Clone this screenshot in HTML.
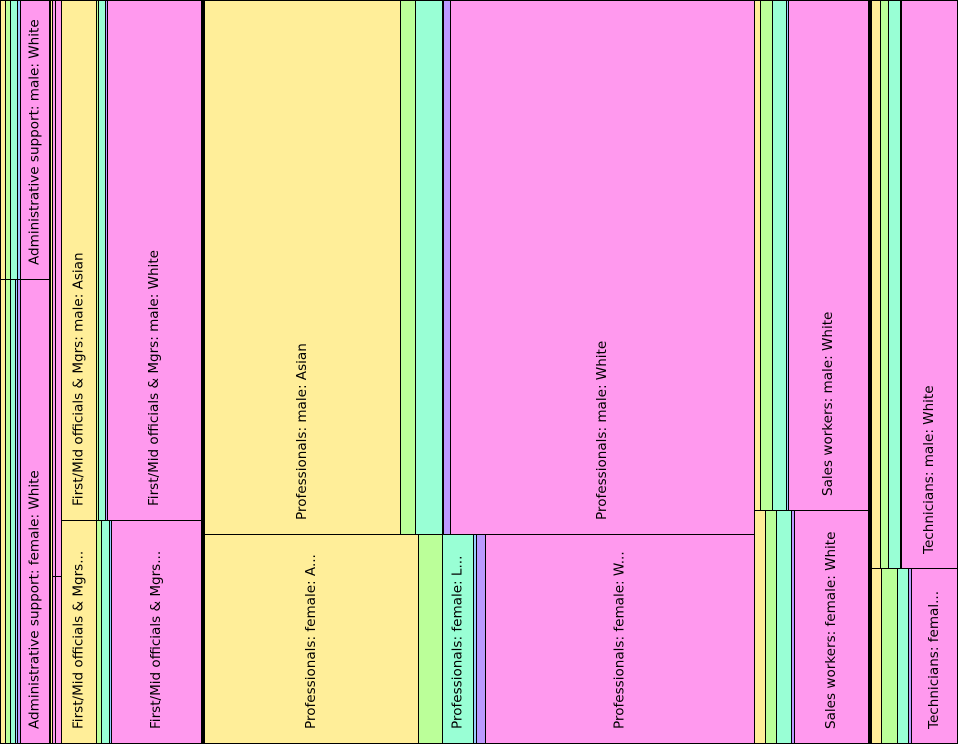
<!DOCTYPE html>
<html>
<head>
<meta charset="utf-8">
<style>
  html,body{margin:0;padding:0;background:#fff;}
  svg{display:block;}
  text{font-family:"DejaVu Sans","Liberation Sans",sans-serif;font-size:13.55px;fill:#000;}
</style>
</head>
<body>
<svg width="958" height="744" viewBox="0 0 958 744" xmlns="http://www.w3.org/2000/svg" shape-rendering="crispEdges">
<g stroke="#000" stroke-width="1">
<!-- Administrative support male -->
<rect x="0.5" y="0.5" width="5" height="279" fill="#FFEE99"/>
<rect x="5.5" y="0.5" width="5" height="279" fill="#BBFF99"/>
<rect x="10.5" y="0.5" width="7" height="279" fill="#99FFD5"/>
<rect x="17.5" y="0.5" width="3" height="279" fill="#99CCFF"/>
<rect x="20.5" y="0.5" width="29" height="279" fill="#FF99EE"/>
<!-- Administrative support female -->
<rect x="0.5" y="279.5" width="5" height="464" fill="#FFEE99"/>
<rect x="5.5" y="279.5" width="5" height="464" fill="#BBFF99"/>
<rect x="10.5" y="279.5" width="5" height="464" fill="#99FFD5"/>
<rect x="15.5" y="279.5" width="2" height="464" fill="#99CCFF"/>
<rect x="17.5" y="279.5" width="3" height="464" fill="#BB99FF"/>
<rect x="20.5" y="279.5" width="29" height="464" fill="#FF99EE"/>
<!-- narrow column -->
<rect x="49.5" y="0.5" width="1" height="743" fill="#FF99EE"/>
<rect x="50.5" y="0.5" width="2" height="743" fill="#FFEE99"/>
<rect x="52.5" y="0.5" width="3" height="576" fill="#FF99EE"/>
<rect x="52.5" y="576.5" width="3" height="167" fill="#FF99EE"/>
<rect x="55.5" y="0.5" width="6" height="576" fill="#FF99EE"/>
<rect x="55.5" y="576.5" width="6" height="167" fill="#FF99EE"/>
<!-- First/Mid male -->
<rect x="61.5" y="0.5" width="35" height="520" fill="#FFEE99"/>
<rect x="96.5" y="0.5" width="2" height="520" fill="#BBFF99"/>
<rect x="98.5" y="0.5" width="7" height="520" fill="#99FFD5"/>
<rect x="105.5" y="0.5" width="2" height="520" fill="#BB99FF"/>
<rect x="107.5" y="0.5" width="94" height="520" fill="#FF99EE"/>
<!-- First/Mid female -->
<rect x="61.5" y="520.5" width="35" height="223" fill="#FFEE99"/>
<rect x="96.5" y="520.5" width="5" height="223" fill="#BBFF99"/>
<rect x="101.5" y="520.5" width="8" height="223" fill="#99FFD5"/>
<rect x="109.5" y="520.5" width="2" height="223" fill="#99CCFF"/>
<rect x="111.5" y="520.5" width="90" height="223" fill="#FF99EE"/>
<!-- separator -->
<rect x="201.5" y="0.5" width="1" height="743" fill="#FF99EE"/>
<rect x="202.5" y="0.5" width="1" height="743" fill="#FF99EE"/>
<rect x="203.5" y="0.5" width="1" height="743" fill="#FF99EE"/>
<!-- Professionals male -->
<rect x="204.5" y="0.5" width="196" height="534" fill="#FFEE99"/>
<rect x="400.5" y="0.5" width="15" height="534" fill="#BBFF99"/>
<rect x="415.5" y="0.5" width="27" height="534" fill="#99FFD5"/>
<rect x="442.5" y="0.5" width="1" height="534" fill="#99FFD5"/>
<rect x="443.5" y="0.5" width="7" height="534" fill="#BB99FF"/>
<rect x="450.5" y="0.5" width="304" height="534" fill="#FF99EE"/>
<!-- Professionals female -->
<rect x="204.5" y="534.5" width="214" height="209" fill="#FFEE99"/>
<rect x="418.5" y="534.5" width="24" height="209" fill="#BBFF99"/>
<rect x="442.5" y="534.5" width="31" height="209" fill="#99FFD5"/>
<rect x="473.5" y="534.5" width="3" height="209" fill="#99CCFF"/>
<rect x="476.5" y="534.5" width="9" height="209" fill="#BB99FF"/>
<rect x="485.5" y="534.5" width="269" height="209" fill="#FF99EE"/>
<!-- Sales male -->
<rect x="754.5" y="0.5" width="6" height="510" fill="#FFEE99"/>
<rect x="760.5" y="0.5" width="12" height="510" fill="#BBFF99"/>
<rect x="772.5" y="0.5" width="14" height="510" fill="#99FFD5"/>
<rect x="786.5" y="0.5" width="2" height="510" fill="#99CCFF"/>
<rect x="788.5" y="0.5" width="80" height="510" fill="#FF99EE"/>
<!-- Sales female -->
<rect x="754.5" y="510.5" width="11" height="233" fill="#FFEE99"/>
<rect x="765.5" y="510.5" width="11" height="233" fill="#BBFF99"/>
<rect x="776.5" y="510.5" width="15" height="233" fill="#99FFD5"/>
<rect x="791.5" y="510.5" width="3" height="233" fill="#BB99FF"/>
<rect x="794.5" y="510.5" width="74" height="233" fill="#FF99EE"/>
<!-- separator -->
<rect x="868.5" y="0.5" width="1" height="743" fill="#FF99EE"/>
<rect x="869.5" y="0.5" width="1" height="743" fill="#FF99EE"/>
<rect x="870.5" y="0.5" width="1" height="743" fill="#FF99EE"/>
<!-- Technicians male -->
<rect x="871.5" y="0.5" width="9" height="568" fill="#FFEE99"/>
<rect x="880.5" y="0.5" width="8" height="568" fill="#BBFF99"/>
<rect x="888.5" y="0.5" width="12" height="568" fill="#99FFD5"/>
<rect x="900.5" y="0.5" width="1" height="568" fill="#99CCFF"/>
<rect x="901.5" y="0.5" width="56" height="568" fill="#FF99EE"/>
<!-- Technicians female -->
<rect x="871.5" y="568.5" width="10" height="175" fill="#FFEE99"/>
<rect x="881.5" y="568.5" width="16" height="175" fill="#BBFF99"/>
<rect x="897.5" y="568.5" width="11" height="175" fill="#99FFD5"/>
<rect x="908.5" y="568.5" width="3" height="175" fill="#BB99FF"/>
<rect x="911.5" y="568.5" width="46" height="175" fill="#FF99EE"/>
</g>
<g>
<text transform="translate(38.5,265) rotate(-90)">Administrative support: male: White</text>
<text transform="translate(38.5,729) rotate(-90)">Administrative support: female: White</text>
<text transform="translate(82.5,506) rotate(-90)">First/Mid officials &amp; Mgrs: male: Asian</text>
<text transform="translate(158,506) rotate(-90)">First/Mid officials &amp; Mgrs: male: White</text>
<text transform="translate(82.5,729) rotate(-90)">First/Mid officials &amp; Mgrs...</text>
<text transform="translate(160,729) rotate(-90)">First/Mid officials &amp; Mgrs...</text>
<text transform="translate(306,520) rotate(-90)">Professionals: male: Asian</text>
<text transform="translate(606,520) rotate(-90)">Professionals: male: White</text>
<text transform="translate(315,729) rotate(-90)">Professionals: female: A...</text>
<text transform="translate(461.5,729) rotate(-90)">Professionals: female: L...</text>
<text transform="translate(623.5,729) rotate(-90)">Professionals: female: W...</text>
<text transform="translate(832,496) rotate(-90)">Sales workers: male: White</text>
<text transform="translate(835,729) rotate(-90)">Sales workers: female: White</text>
<text transform="translate(933,554) rotate(-90)">Technicians: male: White</text>
<text transform="translate(938,729) rotate(-90)">Technicians: femal...</text>
</g>
</svg>
</body>
</html>
